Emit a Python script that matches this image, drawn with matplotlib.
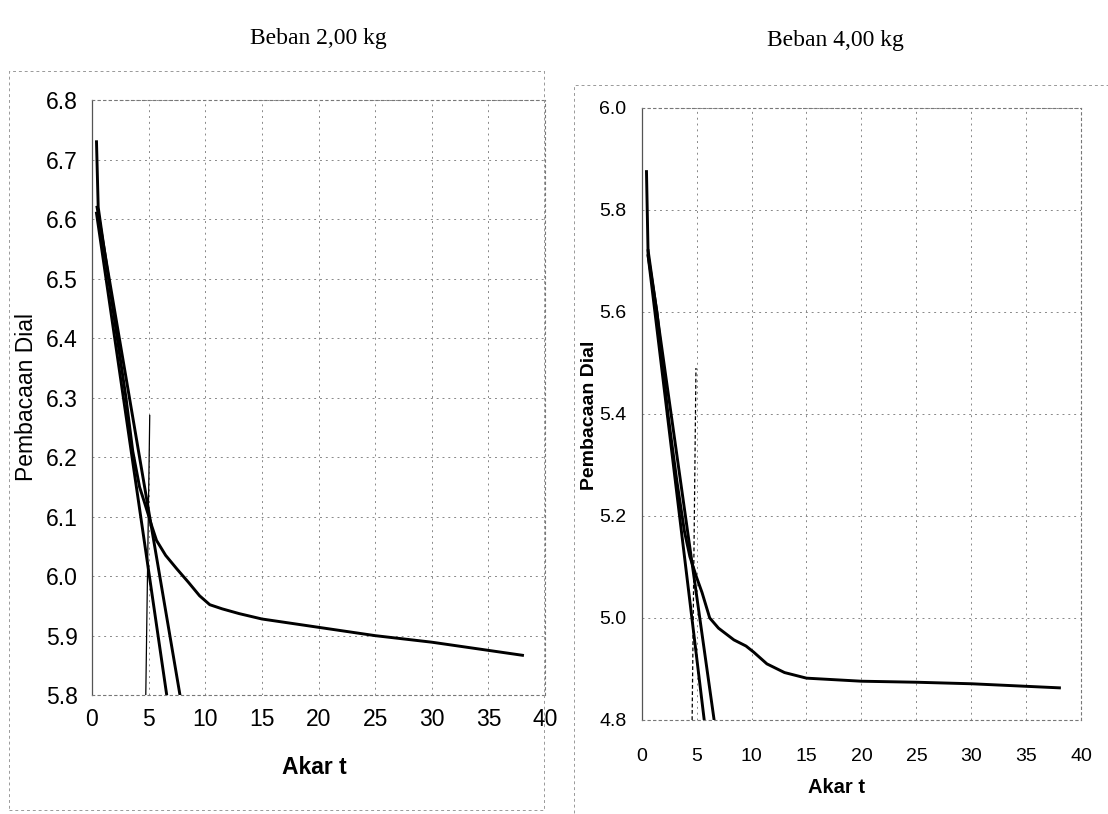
import matplotlib.pyplot as plt
from matplotlib.patches import Rectangle

# Beban 2,00 kg
x_2kg = [0.4, 0.55, 1.0, 2.0, 3.0, 3.6, 4.2, 4.7, 5.3, 5.7, 6.5, 7.5, 8.5, 9.5, 10.4, 11.5, 13, 15, 20, 25, 30, 38]
y_2kg = [6.73, 6.62, 6.56, 6.43, 6.30, 6.21, 6.15, 6.12, 6.083, 6.06, 6.035, 6.012, 5.99, 5.967, 5.952, 5.945, 5.937, 5.928, 5.914, 5.90, 5.889, 5.867]
garis_a_2kg = ([0.4, 6.6], [6.61, 5.8])
garis_b_2kg = ([0.45, 7.77], [6.62, 5.8])
garis_v_2kg = ([4.75, 5.1], [5.8, 6.27])

# Beban 4,00 kg
x_4kg = [0.45, 0.6, 1.4, 2.4, 3.2, 3.9, 4.4, 5.0, 5.5, 6.2, 7.0, 8.4, 9.5, 10.2, 11.4, 13, 15, 20, 25, 30, 38]
y_4kg = [5.875, 5.71, 5.60, 5.40, 5.27, 5.17, 5.12, 5.08, 5.05, 5.00, 4.98, 4.957, 4.945, 4.933, 4.91, 4.893, 4.882, 4.876, 4.874, 4.871, 4.863]
garis_a_4kg = ([0.6, 5.7], [5.71, 4.8])
garis_b_4kg = ([0.6, 6.6], [5.72, 4.8])
garis_v_4kg = ([4.6, 4.95], [4.8, 5.49])

xticks = [0, 5, 10, 15, 20, 25, 30, 35, 40]
yticks_2kg = [5.8, 5.9, 6.0, 6.1, 6.2, 6.3, 6.4, 6.5, 6.6, 6.7, 6.8]
yticks_4kg = [4.8, 5.0, 5.2, 5.4, 5.6, 5.8, 6.0]

plt.rcParams['font.family'] = ['Liberation Sans', 'DejaVu Sans']

fig = plt.figure(figsize=(11.08, 8.14), dpi=100)
fig.patch.set_facecolor('white')


def draw_panel(ax, x, y, lines, vline, yticks, ylim, fs, vstyle, xpad, ypad):
    ax.plot(x, y, color='black', lw=2.1)
    for lx, ly in lines:
        ax.plot(lx, ly, color='black', lw=2.1)
    ax.plot(vline[0], vline[1], color='black', lw=0.9, linestyle=vstyle)
    ax.set_xlim(0, 40)
    ax.set_ylim(*ylim)
    ax.set_xticks(xticks)
    ax.set_yticks(yticks)
    ax.grid(True, color='#888888', linestyle=(0, (2, 4)), linewidth=0.7)
    for side in ['top', 'right', 'bottom']:
        ax.spines[side].set_linestyle((0, (2, 3)))
        ax.spines[side].set_color('#777777')
        ax.spines[side].set_linewidth(0.8)
    ax.spines['left'].set_color('#555555')
    ax.spines['left'].set_linewidth(0.9)
    ax.tick_params(length=0, labelsize=fs)
    ax.tick_params(axis='x', pad=xpad)
    ax.tick_params(axis='y', pad=ypad)


ax1 = fig.add_axes([0.083, 0.146, 0.409, 0.731])
draw_panel(ax1, x_2kg, y_2kg, [garis_a_2kg, garis_b_2kg], garis_v_2kg,
           yticks_2kg, (5.8, 6.8), 16.5, '-', 9, 10)
ax1.set_yticklabels(['%.1f' % v for v in yticks_2kg])

ax2 = fig.add_axes([0.579, 0.1155, 0.397, 0.752])
draw_panel(ax2, x_4kg, y_4kg, [garis_a_4kg, garis_b_4kg], garis_v_4kg,
           yticks_4kg, (4.8, 6.0), 14, (0, (3, 2)), 20, 11)
ax2.set_yticklabels(['%.1f' % v for v in yticks_4kg])

fig.text(0.287, 0.953, 'Beban 2,00 kg', family='Liberation Serif', fontsize=17, ha='center', va='center')
fig.text(0.754, 0.950, 'Beban 4,00 kg', family='Liberation Serif', fontsize=17, ha='center', va='center')

fig.text(0.024, 0.512, 'Pembacaan Dial', rotation=90, fontsize=16.5, ha='center', va='center')
fig.text(0.532, 0.49, 'Pembacaan Dial', rotation=90, fontsize=14, fontweight='bold', ha='center', va='center')

fig.text(0.284, 0.057, 'Akar t', fontsize=16.5, fontweight='bold', ha='center', va='center')
fig.text(0.755, 0.032, 'Akar t', fontsize=14.5, fontweight='bold', ha='center', va='center')

# chart area borders from the scan
fig.add_artist(Rectangle((0.008, 0.005), 0.483, 0.908, transform=fig.transFigure, fill=False,
                         edgecolor='#999999', lw=0.7, linestyle=(0, (3, 3))))
fig.add_artist(Rectangle((0.518, -0.01), 0.49, 0.905, transform=fig.transFigure, fill=False,
                         edgecolor='#999999', lw=0.7, linestyle=(0, (3, 3))))

fig.savefig('out.png', dpi=100)
